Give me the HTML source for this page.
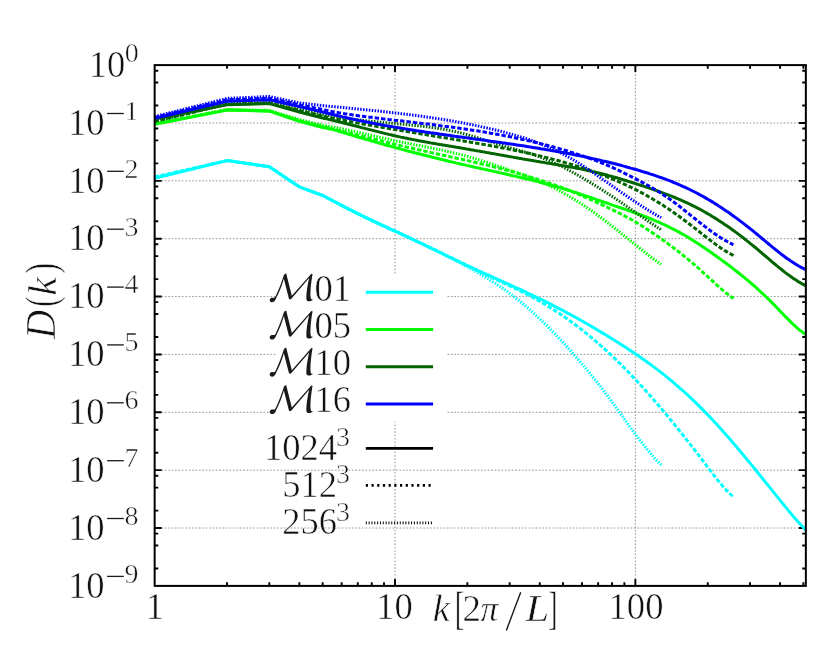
<!DOCTYPE html>
<html><head><meta charset="utf-8"><title>D(k)</title>
<style>html,body{margin:0;padding:0;background:#fff;overflow:hidden;}svg{display:block;font-family:"Liberation Serif",serif;will-change:transform;}</style></head><body>
<svg width="814" height="651" viewBox="0 0 814 651">
<rect width="814" height="651" fill="#fff"/>
<g stroke="#999" stroke-width="1" stroke-dasharray="1.7 1.7" fill="none">
<path d="M154.65,122.97 H805.85"/>
<path d="M154.65,180.83 H805.85"/>
<path d="M154.65,238.70 H805.85"/>
<path d="M154.65,296.57 H276.00 M447.50,296.57 H805.85"/>
<path d="M154.65,354.43 H276.00 M447.50,354.43 H805.85"/>
<path d="M154.65,412.30 H276.00 M447.50,412.30 H805.85"/>
<path d="M154.65,470.17 H805.85"/>
<path d="M154.65,528.03 H805.85"/>
<path d="M395.01,585.90 V421.60 M395.01,273.50 V65.10"/>
<path d="M635.37,585.90 V65.10"/>
</g>
<path stroke="#000" stroke-width="1.9" fill="none" d="M154.65,70.71 h3.60 M805.85,70.71 h-3.60 M154.65,82.52 h3.60 M805.85,82.52 h-3.60 M154.65,105.55 h3.60 M805.85,105.55 h-3.60 M154.65,122.97 h7.00 M805.85,122.97 h-7.00 M154.65,128.57 h3.60 M805.85,128.57 h-3.60 M154.65,140.39 h3.60 M805.85,140.39 h-3.60 M154.65,163.41 h3.60 M805.85,163.41 h-3.60 M154.65,180.83 h7.00 M805.85,180.83 h-7.00 M154.65,186.44 h3.60 M805.85,186.44 h-3.60 M154.65,198.25 h3.60 M805.85,198.25 h-3.60 M154.65,221.28 h3.60 M805.85,221.28 h-3.60 M154.65,238.70 h7.00 M805.85,238.70 h-7.00 M154.65,244.31 h3.60 M805.85,244.31 h-3.60 M154.65,256.12 h3.60 M805.85,256.12 h-3.60 M154.65,279.15 h3.60 M805.85,279.15 h-3.60 M154.65,296.57 h7.00 M805.85,296.57 h-7.00 M154.65,302.17 h3.60 M805.85,302.17 h-3.60 M154.65,313.99 h3.60 M805.85,313.99 h-3.60 M154.65,337.01 h3.60 M805.85,337.01 h-3.60 M154.65,354.43 h7.00 M805.85,354.43 h-7.00 M154.65,360.04 h3.60 M805.85,360.04 h-3.60 M154.65,371.85 h3.60 M805.85,371.85 h-3.60 M154.65,394.88 h3.60 M805.85,394.88 h-3.60 M154.65,412.30 h7.00 M805.85,412.30 h-7.00 M154.65,417.91 h3.60 M805.85,417.91 h-3.60 M154.65,429.72 h3.60 M805.85,429.72 h-3.60 M154.65,452.75 h3.60 M805.85,452.75 h-3.60 M154.65,470.17 h7.00 M805.85,470.17 h-7.00 M154.65,475.77 h3.60 M805.85,475.77 h-3.60 M154.65,487.59 h3.60 M805.85,487.59 h-3.60 M154.65,510.61 h3.60 M805.85,510.61 h-3.60 M154.65,528.03 h7.00 M805.85,528.03 h-7.00 M154.65,533.64 h3.60 M805.85,533.64 h-3.60 M154.65,545.45 h3.60 M805.85,545.45 h-3.60 M154.65,568.48 h3.60 M805.85,568.48 h-3.60 M227.01,585.90 v-3.60 M227.01,65.10 v3.60 M269.33,585.90 v-3.60 M269.33,65.10 v3.60 M299.36,585.90 v-3.60 M299.36,65.10 v3.60 M322.65,585.90 v-3.60 M322.65,65.10 v3.60 M341.69,585.90 v-3.60 M341.69,65.10 v3.60 M357.78,585.90 v-3.60 M357.78,65.10 v3.60 M371.72,585.90 v-3.60 M371.72,65.10 v3.60 M384.01,585.90 v-3.60 M384.01,65.10 v3.60 M395.01,585.90 v-7.00 M395.01,65.10 v7.00 M467.37,585.90 v-3.60 M467.37,65.10 v3.60 M509.69,585.90 v-3.60 M509.69,65.10 v3.60 M539.72,585.90 v-3.60 M539.72,65.10 v3.60 M563.01,585.90 v-3.60 M563.01,65.10 v3.60 M582.05,585.90 v-3.60 M582.05,65.10 v3.60 M598.14,585.90 v-3.60 M598.14,65.10 v3.60 M612.08,585.90 v-3.60 M612.08,65.10 v3.60 M624.37,585.90 v-3.60 M624.37,65.10 v3.60 M635.37,585.90 v-7.00 M635.37,65.10 v7.00 M707.73,585.90 v-3.60 M707.73,65.10 v3.60 M750.05,585.90 v-3.60 M750.05,65.10 v3.60 M780.08,585.90 v-3.60 M780.08,65.10 v3.60 M803.37,585.90 v-3.60 M803.37,65.10 v3.60"/>
<path d="M154.7,178.3 L227.0,160.6 L269.3,166.7 L299.4,186.9 L322.7,195.5 L324.7,196.5 L326.7,197.6 L328.7,198.6 L330.7,199.7 L332.7,200.8 L334.7,201.8 L336.7,202.9 L338.7,204.0 L340.7,205.0 L342.7,206.1 L344.7,207.1 L346.7,208.1 L348.7,209.2 L350.7,210.2 L352.7,211.2 L354.7,212.1 L356.7,213.1 L358.7,214.1 L360.7,215.0 L362.7,216.0 L364.7,216.9 L366.7,217.9 L368.7,218.8 L370.7,219.7 L372.7,220.7 L374.7,221.6 L376.7,222.5 L378.7,223.4 L380.7,224.4 L382.7,225.3 L384.7,226.2 L386.7,227.1 L388.7,228.0 L390.7,229.0 L392.7,229.9 L394.7,230.8 L396.7,231.7 L398.7,232.7 L400.7,233.6 L402.7,234.6 L404.7,235.5 L406.7,236.5 L408.7,237.4 L410.7,238.4 L412.7,239.4 L414.7,240.3 L416.7,241.3 L418.7,242.3 L420.7,243.2 L422.7,244.2 L424.7,245.2 L426.7,246.1 L428.7,247.1 L430.7,248.1 L432.7,249.1 L434.7,250.0 L436.7,251.0 L438.7,252.0 L440.7,252.9 L442.7,253.9 L444.7,254.9 L446.7,255.8 L448.7,256.8 L450.7,257.8 L452.7,258.7 L454.7,259.7 L456.7,260.6 L458.7,261.6 L460.7,262.5 L462.7,263.4 L464.7,264.4 L466.7,265.3 L468.7,266.2 L470.7,267.1 L472.7,268.1 L474.7,269.0 L476.7,269.9 L478.7,270.8 L480.7,271.7 L482.7,272.6 L484.7,273.5 L486.7,274.4 L488.7,275.3 L490.7,276.2 L492.7,277.1 L494.7,278.0 L496.7,278.9 L498.7,279.8 L500.7,280.7 L502.7,281.6 L504.7,282.5 L506.7,283.4 L508.7,284.3 L510.7,285.2 L512.7,286.1 L514.7,287.0 L516.7,287.9 L518.7,288.8 L520.7,289.7 L522.7,290.7 L524.7,291.6 L526.7,292.5 L528.7,293.5 L530.7,294.4 L532.7,295.4 L534.7,296.3 L536.7,297.3 L538.7,298.3 L540.7,299.2 L542.7,300.2 L544.7,301.2 L546.7,302.2 L548.7,303.2 L550.7,304.2 L552.7,305.2 L554.7,306.3 L556.7,307.3 L558.7,308.3 L560.7,309.4 L562.7,310.4 L564.7,311.5 L566.7,312.6 L568.7,313.7 L570.7,314.7 L572.7,315.8 L574.7,316.9 L576.7,318.0 L578.7,319.1 L580.7,320.3 L582.7,321.4 L584.7,322.5 L586.7,323.7 L588.7,324.8 L590.7,326.0 L592.7,327.1 L594.7,328.3 L596.7,329.5 L598.7,330.7 L600.7,331.9 L602.7,333.1 L604.7,334.3 L606.7,335.5 L608.7,336.7 L610.7,337.9 L612.7,339.2 L614.7,340.4 L616.7,341.7 L618.7,342.9 L620.7,344.2 L622.7,345.5 L624.7,346.8 L626.7,348.1 L628.7,349.4 L630.7,350.7 L632.7,352.0 L634.7,353.4 L636.7,354.7 L638.7,356.1 L640.7,357.5 L642.7,358.9 L644.7,360.3 L646.7,361.7 L648.7,363.2 L650.7,364.6 L652.7,366.1 L654.7,367.6 L656.7,369.1 L658.7,370.6 L660.7,372.2 L662.7,373.7 L664.7,375.3 L666.7,376.9 L668.7,378.6 L670.7,380.2 L672.7,381.9 L674.7,383.6 L676.7,385.3 L678.7,387.0 L680.7,388.8 L682.7,390.5 L684.7,392.3 L686.7,394.2 L688.7,396.0 L690.7,397.9 L692.7,399.8 L694.7,401.7 L696.7,403.6 L698.7,405.6 L700.7,407.6 L702.7,409.6 L704.7,411.6 L706.7,413.7 L708.7,415.8 L710.7,417.9 L712.7,420.0 L714.7,422.2 L716.7,424.3 L718.7,426.5 L720.7,428.7 L722.7,431.0 L724.7,433.2 L726.7,435.5 L728.7,437.8 L730.7,440.1 L732.7,442.4 L734.7,444.8 L736.7,447.1 L738.7,449.5 L740.7,451.9 L742.7,454.3 L744.7,456.7 L746.7,459.1 L748.7,461.5 L750.7,463.9 L752.7,466.4 L754.7,468.8 L756.7,471.3 L758.7,473.8 L760.7,476.2 L762.7,478.7 L764.7,481.2 L766.7,483.7 L768.7,486.1 L770.7,488.6 L772.7,491.1 L774.7,493.6 L776.7,496.1 L778.7,498.6 L780.7,501.1 L782.7,503.5 L784.7,506.0 L786.7,508.4 L788.7,510.9 L790.7,513.2 L792.7,515.6 L794.7,517.9 L796.7,520.2 L798.7,522.5 L800.7,524.7 L802.7,526.8 L804.7,528.9 L805.9,530.2" fill="none" stroke="#00ffff" stroke-width="3.0" stroke-linejoin="round"/>
<path d="M154.7,177.0 L227.0,160.6 L269.3,166.7 L299.4,186.9 L322.7,195.5 L324.7,196.5 L326.7,197.5 L328.7,198.6 L330.7,199.6 L332.7,200.7 L334.7,201.7 L336.7,202.8 L338.7,203.9 L340.7,205.0 L342.7,206.0 L344.7,207.1 L346.7,208.1 L348.7,209.2 L350.7,210.2 L352.7,211.2 L354.7,212.2 L356.7,213.2 L358.7,214.2 L360.7,215.2 L362.7,216.2 L364.7,217.2 L366.7,218.1 L368.7,219.1 L370.7,220.0 L372.7,221.0 L374.7,221.9 L376.7,222.8 L378.7,223.8 L380.7,224.7 L382.7,225.6 L384.7,226.5 L386.7,227.4 L388.7,228.4 L390.7,229.3 L392.7,230.2 L394.7,231.1 L396.7,232.0 L398.7,232.9 L400.7,233.8 L402.7,234.7 L404.7,235.6 L406.7,236.5 L408.7,237.4 L410.7,238.4 L412.7,239.3 L414.7,240.2 L416.7,241.1 L418.7,242.0 L420.7,243.0 L422.7,243.9 L424.7,244.9 L426.7,245.8 L428.7,246.8 L430.7,247.7 L432.7,248.7 L434.7,249.6 L436.7,250.6 L438.7,251.6 L440.7,252.5 L442.7,253.5 L444.7,254.5 L446.7,255.5 L448.7,256.5 L450.7,257.4 L452.7,258.4 L454.7,259.4 L456.7,260.4 L458.7,261.4 L460.7,262.4 L462.7,263.4 L464.7,264.3 L466.7,265.3 L468.7,266.3 L470.7,267.3 L472.7,268.3 L474.7,269.2 L476.7,270.2 L478.7,271.2 L480.7,272.2 L482.7,273.1 L484.7,274.1 L486.7,275.0 L488.7,276.0 L490.7,276.9 L492.7,277.9 L494.7,278.8 L496.7,279.8 L498.7,280.7 L500.7,281.6 L502.7,282.6 L504.7,283.5 L506.7,284.4 L508.7,285.4 L510.7,286.3 L512.7,287.3 L514.7,288.3 L516.7,289.2 L518.7,290.2 L520.7,291.2 L522.7,292.2 L524.7,293.2 L526.7,294.2 L528.7,295.3 L530.7,296.3 L532.7,297.4 L534.7,298.5 L536.7,299.6 L538.7,300.7 L540.7,301.9 L542.7,303.0 L544.7,304.2 L546.7,305.4 L548.7,306.6 L550.7,307.9 L552.7,309.1 L554.7,310.4 L556.7,311.7 L558.7,313.0 L560.7,314.4 L562.7,315.7 L564.7,317.1 L566.7,318.5 L568.7,319.9 L570.7,321.4 L572.7,322.8 L574.7,324.3 L576.7,325.8 L578.7,327.4 L580.7,328.9 L582.7,330.5 L584.7,332.1 L586.7,333.7 L588.7,335.3 L590.7,337.0 L592.7,338.6 L594.7,340.3 L596.7,342.0 L598.7,343.8 L600.7,345.5 L602.7,347.3 L604.7,349.1 L606.7,350.9 L608.7,352.8 L610.7,354.6 L612.7,356.5 L614.7,358.4 L616.7,360.4 L618.7,362.3 L620.7,364.3 L622.7,366.3 L624.7,368.3 L626.7,370.3 L628.7,372.4 L630.7,374.5 L632.7,376.6 L634.7,378.7 L636.7,380.8 L638.7,383.0 L640.7,385.2 L642.7,387.3 L644.7,389.6 L646.7,391.8 L648.7,394.0 L650.7,396.3 L652.7,398.6 L654.7,400.9 L656.7,403.2 L658.7,405.5 L660.7,407.9 L662.7,410.2 L664.7,412.6 L666.7,415.0 L668.7,417.4 L670.7,419.9 L672.7,422.3 L674.7,424.8 L676.7,427.2 L678.7,429.7 L680.7,432.2 L682.7,434.7 L684.7,437.2 L686.7,439.8 L688.7,442.3 L690.7,444.9 L692.7,447.5 L694.7,450.0 L696.7,452.6 L698.7,455.2 L700.7,457.9 L702.7,460.5 L704.7,463.1 L706.7,465.8 L708.7,468.4 L710.7,471.1 L712.7,473.7 L714.7,476.3 L716.7,478.8 L718.7,481.3 L720.7,483.7 L722.7,486.1 L724.7,488.4 L726.7,490.5 L728.7,492.6 L730.7,494.5 L732.7,496.3 L733.5,497.0" fill="none" stroke="#00ffff" stroke-width="3.0" stroke-dasharray="4.4 2.0" stroke-linejoin="round"/>
<path d="M154.7,177.6 L227.0,160.6 L269.3,166.7 L299.4,186.9 L322.7,195.5 L324.7,196.5 L326.7,197.5 L328.7,198.5 L330.7,199.5 L332.7,200.5 L334.7,201.5 L336.7,202.6 L338.7,203.6 L340.7,204.6 L342.7,205.7 L344.7,206.7 L346.7,207.8 L348.7,208.8 L350.7,209.9 L352.7,210.9 L354.7,212.0 L356.7,213.0 L358.7,214.1 L360.7,215.1 L362.7,216.1 L364.7,217.1 L366.7,218.1 L368.7,219.1 L370.7,220.1 L372.7,221.1 L374.7,222.0 L376.7,223.0 L378.7,223.9 L380.7,224.9 L382.7,225.8 L384.7,226.7 L386.7,227.7 L388.7,228.6 L390.7,229.5 L392.7,230.4 L394.7,231.3 L396.7,232.2 L398.7,233.1 L400.7,234.0 L402.7,234.9 L404.7,235.8 L406.7,236.7 L408.7,237.6 L410.7,238.6 L412.7,239.5 L414.7,240.4 L416.7,241.3 L418.7,242.2 L420.7,243.2 L422.7,244.1 L424.7,245.0 L426.7,246.0 L428.7,246.9 L430.7,247.9 L432.7,248.9 L434.7,249.9 L436.7,250.8 L438.7,251.8 L440.7,252.8 L442.7,253.8 L444.7,254.9 L446.7,255.9 L448.7,256.9 L450.7,257.9 L452.7,259.0 L454.7,260.0 L456.7,261.1 L458.7,262.2 L460.7,263.2 L462.7,264.3 L464.7,265.4 L466.7,266.5 L468.7,267.6 L470.7,268.7 L472.7,269.8 L474.7,270.9 L476.7,272.1 L478.7,273.2 L480.7,274.4 L482.7,275.6 L484.7,276.8 L486.7,278.0 L488.7,279.2 L490.7,280.5 L492.7,281.7 L494.7,283.0 L496.7,284.3 L498.7,285.7 L500.7,287.0 L502.7,288.4 L504.7,289.8 L506.7,291.2 L508.7,292.7 L510.7,294.1 L512.7,295.7 L514.7,297.2 L516.7,298.8 L518.7,300.4 L520.7,302.0 L522.7,303.6 L524.7,305.3 L526.7,307.0 L528.7,308.8 L530.7,310.5 L532.7,312.3 L534.7,314.1 L536.7,316.0 L538.7,317.8 L540.7,319.7 L542.7,321.7 L544.7,323.6 L546.7,325.6 L548.7,327.6 L550.7,329.6 L552.7,331.6 L554.7,333.7 L556.7,335.8 L558.7,337.9 L560.7,340.0 L562.7,342.1 L564.7,344.3 L566.7,346.5 L568.7,348.7 L570.7,350.9 L572.7,353.2 L574.7,355.5 L576.7,357.7 L578.7,360.1 L580.7,362.4 L582.7,364.7 L584.7,367.1 L586.7,369.5 L588.7,371.9 L590.7,374.4 L592.7,376.8 L594.7,379.3 L596.7,381.8 L598.7,384.4 L600.7,386.9 L602.7,389.5 L604.7,392.2 L606.7,394.8 L608.7,397.5 L610.7,400.2 L612.7,402.9 L614.7,405.6 L616.7,408.4 L618.7,411.2 L620.7,413.9 L622.7,416.7 L624.7,419.5 L626.7,422.3 L628.7,425.1 L630.7,427.8 L632.7,430.6 L634.7,433.3 L636.7,436.0 L638.7,438.6 L640.7,441.3 L642.7,443.8 L644.7,446.4 L646.7,448.9 L648.7,451.3 L650.7,453.7 L652.7,456.0 L654.7,458.3 L656.7,460.4 L658.7,462.5 L660.7,464.5 L661.1,465.0" fill="none" stroke="#00ffff" stroke-width="3.0" stroke-dasharray="1.5 1.4" stroke-linejoin="round"/>
<path d="M154.7,124.4 L227.0,110.1 L269.3,111.2 L299.4,121.3 L322.7,127.5 L324.7,127.9 L326.7,128.3 L328.7,128.7 L330.7,129.1 L332.7,129.6 L334.7,130.1 L336.7,130.6 L338.7,131.2 L340.7,131.8 L342.7,132.4 L344.7,133.0 L346.7,133.6 L348.7,134.2 L350.7,134.8 L352.7,135.4 L354.7,136.0 L356.7,136.6 L358.7,137.2 L360.7,137.8 L362.7,138.4 L364.7,139.0 L366.7,139.6 L368.7,140.1 L370.7,140.7 L372.7,141.3 L374.7,141.9 L376.7,142.4 L378.7,143.0 L380.7,143.6 L382.7,144.1 L384.7,144.7 L386.7,145.2 L388.7,145.8 L390.7,146.3 L392.7,146.9 L394.7,147.4 L396.7,148.0 L398.7,148.5 L400.7,149.1 L402.7,149.6 L404.7,150.1 L406.7,150.7 L408.7,151.2 L410.7,151.7 L412.7,152.2 L414.7,152.8 L416.7,153.3 L418.7,153.8 L420.7,154.3 L422.7,154.8 L424.7,155.3 L426.7,155.8 L428.7,156.3 L430.7,156.8 L432.7,157.3 L434.7,157.8 L436.7,158.3 L438.7,158.8 L440.7,159.3 L442.7,159.8 L444.7,160.2 L446.7,160.7 L448.7,161.2 L450.7,161.7 L452.7,162.1 L454.7,162.6 L456.7,163.1 L458.7,163.5 L460.7,164.0 L462.7,164.5 L464.7,164.9 L466.7,165.4 L468.7,165.8 L470.7,166.3 L472.7,166.7 L474.7,167.2 L476.7,167.6 L478.7,168.0 L480.7,168.5 L482.7,168.9 L484.7,169.4 L486.7,169.8 L488.7,170.3 L490.7,170.7 L492.7,171.1 L494.7,171.6 L496.7,172.0 L498.7,172.5 L500.7,172.9 L502.7,173.4 L504.7,173.8 L506.7,174.3 L508.7,174.7 L510.7,175.2 L512.7,175.7 L514.7,176.1 L516.7,176.6 L518.7,177.1 L520.7,177.5 L522.7,178.0 L524.7,178.5 L526.7,179.0 L528.7,179.4 L530.7,179.9 L532.7,180.4 L534.7,180.9 L536.7,181.4 L538.7,181.9 L540.7,182.5 L542.7,183.0 L544.7,183.5 L546.7,184.0 L548.7,184.6 L550.7,185.1 L552.7,185.7 L554.7,186.2 L556.7,186.8 L558.7,187.4 L560.7,187.9 L562.7,188.5 L564.7,189.1 L566.7,189.7 L568.7,190.3 L570.7,190.9 L572.7,191.6 L574.7,192.2 L576.7,192.8 L578.7,193.5 L580.7,194.1 L582.7,194.8 L584.7,195.5 L586.7,196.1 L588.7,196.8 L590.7,197.5 L592.7,198.2 L594.7,198.9 L596.7,199.6 L598.7,200.3 L600.7,201.0 L602.7,201.7 L604.7,202.3 L606.7,203.0 L608.7,203.7 L610.7,204.4 L612.7,205.1 L614.7,205.8 L616.7,206.5 L618.7,207.2 L620.7,207.8 L622.7,208.5 L624.7,209.2 L626.7,209.9 L628.7,210.6 L630.7,211.3 L632.7,212.0 L634.7,212.7 L636.7,213.5 L638.7,214.2 L640.7,214.9 L642.7,215.7 L644.7,216.5 L646.7,217.2 L648.7,218.0 L650.7,218.8 L652.7,219.6 L654.7,220.5 L656.7,221.3 L658.7,222.2 L660.7,223.1 L662.7,224.0 L664.7,224.9 L666.7,225.8 L668.7,226.8 L670.7,227.8 L672.7,228.8 L674.7,229.8 L676.7,230.9 L678.7,231.9 L680.7,233.1 L682.7,234.2 L684.7,235.3 L686.7,236.5 L688.7,237.7 L690.7,239.0 L692.7,240.2 L694.7,241.5 L696.7,242.8 L698.7,244.1 L700.7,245.4 L702.7,246.7 L704.7,248.1 L706.7,249.5 L708.7,250.8 L710.7,252.2 L712.7,253.6 L714.7,255.1 L716.7,256.5 L718.7,257.9 L720.7,259.4 L722.7,260.9 L724.7,262.3 L726.7,263.8 L728.7,265.3 L730.7,266.8 L732.7,268.3 L734.7,269.9 L736.7,271.5 L738.7,273.0 L740.7,274.6 L742.7,276.2 L744.7,277.9 L746.7,279.5 L748.7,281.2 L750.7,282.9 L752.7,284.6 L754.7,286.4 L756.7,288.2 L758.7,290.0 L760.7,291.8 L762.7,293.7 L764.7,295.5 L766.7,297.5 L768.7,299.4 L770.7,301.4 L772.7,303.4 L774.7,305.4 L776.7,307.5 L778.7,309.6 L780.7,311.7 L782.7,313.8 L784.7,315.9 L786.7,317.9 L788.7,319.9 L790.7,321.9 L792.7,323.9 L794.7,325.7 L796.7,327.5 L798.7,329.3 L800.7,330.9 L802.7,332.4 L804.7,333.8 L805.9,334.6" fill="none" stroke="#00ff00" stroke-width="3.0" stroke-linejoin="round"/>
<path d="M154.7,124.0 L227.0,109.8 L269.3,110.9 L299.4,120.6 L322.7,126.6 L324.7,127.1 L326.7,127.5 L328.7,128.0 L330.7,128.5 L332.7,128.9 L334.7,129.4 L336.7,129.9 L338.7,130.4 L340.7,130.9 L342.7,131.4 L344.7,131.9 L346.7,132.3 L348.7,132.8 L350.7,133.3 L352.7,133.8 L354.7,134.3 L356.7,134.8 L358.7,135.3 L360.7,135.8 L362.7,136.3 L364.7,136.8 L366.7,137.3 L368.7,137.8 L370.7,138.3 L372.7,138.8 L374.7,139.3 L376.7,139.8 L378.7,140.3 L380.7,140.8 L382.7,141.3 L384.7,141.8 L386.7,142.3 L388.7,142.8 L390.7,143.3 L392.7,143.8 L394.7,144.2 L396.7,144.7 L398.7,145.2 L400.7,145.7 L402.7,146.1 L404.7,146.6 L406.7,147.1 L408.7,147.5 L410.7,148.0 L412.7,148.4 L414.7,148.9 L416.7,149.3 L418.7,149.8 L420.7,150.2 L422.7,150.7 L424.7,151.1 L426.7,151.6 L428.7,152.0 L430.7,152.5 L432.7,152.9 L434.7,153.3 L436.7,153.8 L438.7,154.2 L440.7,154.7 L442.7,155.1 L444.7,155.5 L446.7,156.0 L448.7,156.4 L450.7,156.9 L452.7,157.3 L454.7,157.7 L456.7,158.2 L458.7,158.6 L460.7,159.1 L462.7,159.5 L464.7,160.0 L466.7,160.4 L468.7,160.9 L470.7,161.4 L472.7,161.8 L474.7,162.3 L476.7,162.7 L478.7,163.2 L480.7,163.7 L482.7,164.2 L484.7,164.6 L486.7,165.1 L488.7,165.6 L490.7,166.1 L492.7,166.6 L494.7,167.1 L496.7,167.6 L498.7,168.1 L500.7,168.6 L502.7,169.2 L504.7,169.7 L506.7,170.2 L508.7,170.8 L510.7,171.3 L512.7,171.8 L514.7,172.4 L516.7,173.0 L518.7,173.5 L520.7,174.1 L522.7,174.7 L524.7,175.3 L526.7,175.9 L528.7,176.5 L530.7,177.1 L532.7,177.7 L534.7,178.3 L536.7,179.0 L538.7,179.6 L540.7,180.2 L542.7,180.9 L544.7,181.6 L546.7,182.2 L548.7,182.9 L550.7,183.6 L552.7,184.3 L554.7,185.0 L556.7,185.8 L558.7,186.5 L560.7,187.2 L562.7,188.0 L564.7,188.7 L566.7,189.5 L568.7,190.3 L570.7,191.1 L572.7,191.9 L574.7,192.7 L576.7,193.5 L578.7,194.4 L580.7,195.2 L582.7,196.1 L584.7,196.9 L586.7,197.8 L588.7,198.7 L590.7,199.6 L592.7,200.5 L594.7,201.4 L596.7,202.3 L598.7,203.3 L600.7,204.2 L602.7,205.1 L604.7,206.1 L606.7,207.0 L608.7,208.0 L610.7,208.9 L612.7,209.9 L614.7,210.9 L616.7,211.9 L618.7,212.9 L620.7,213.9 L622.7,214.9 L624.7,216.0 L626.7,217.0 L628.7,218.1 L630.7,219.2 L632.7,220.3 L634.7,221.5 L636.7,222.7 L638.7,223.9 L640.7,225.1 L642.7,226.4 L644.7,227.6 L646.7,228.9 L648.7,230.3 L650.7,231.6 L652.7,233.0 L654.7,234.3 L656.7,235.7 L658.7,237.1 L660.7,238.5 L662.7,239.9 L664.7,241.3 L666.7,242.8 L668.7,244.3 L670.7,245.7 L672.7,247.2 L674.7,248.7 L676.7,250.3 L678.7,251.8 L680.7,253.4 L682.7,255.0 L684.7,256.6 L686.7,258.2 L688.7,259.9 L690.7,261.5 L692.7,263.2 L694.7,265.0 L696.7,266.7 L698.7,268.5 L700.7,270.3 L702.7,272.1 L704.7,273.9 L706.7,275.7 L708.7,277.6 L710.7,279.4 L712.7,281.2 L714.7,283.1 L716.7,284.9 L718.7,286.6 L720.7,288.4 L722.7,290.1 L724.7,291.7 L726.7,293.4 L728.7,294.9 L730.7,296.5 L732.7,297.9 L733.5,298.5" fill="none" stroke="#00ff00" stroke-width="3.0" stroke-dasharray="4.4 2.0" stroke-linejoin="round"/>
<path d="M154.7,123.6 L227.0,109.5 L269.3,110.4 L299.4,119.6 L322.7,125.2 L324.7,125.5 L326.7,125.9 L328.7,126.2 L330.7,126.6 L332.7,127.0 L334.7,127.3 L336.7,127.7 L338.7,128.1 L340.7,128.5 L342.7,128.9 L344.7,129.4 L346.7,129.8 L348.7,130.2 L350.7,130.7 L352.7,131.1 L354.7,131.5 L356.7,132.0 L358.7,132.5 L360.7,132.9 L362.7,133.4 L364.7,133.8 L366.7,134.3 L368.7,134.8 L370.7,135.2 L372.7,135.7 L374.7,136.2 L376.7,136.6 L378.7,137.1 L380.7,137.5 L382.7,138.0 L384.7,138.5 L386.7,138.9 L388.7,139.3 L390.7,139.8 L392.7,140.2 L394.7,140.7 L396.7,141.1 L398.7,141.5 L400.7,141.9 L402.7,142.3 L404.7,142.7 L406.7,143.1 L408.7,143.5 L410.7,143.9 L412.7,144.3 L414.7,144.7 L416.7,145.1 L418.7,145.5 L420.7,145.9 L422.7,146.3 L424.7,146.7 L426.7,147.1 L428.7,147.4 L430.7,147.8 L432.7,148.3 L434.7,148.7 L436.7,149.1 L438.7,149.5 L440.7,149.9 L442.7,150.3 L444.7,150.8 L446.7,151.2 L448.7,151.7 L450.7,152.2 L452.7,152.6 L454.7,153.1 L456.7,153.6 L458.7,154.1 L460.7,154.6 L462.7,155.1 L464.7,155.7 L466.7,156.2 L468.7,156.8 L470.7,157.4 L472.7,157.9 L474.7,158.5 L476.7,159.1 L478.7,159.7 L480.7,160.3 L482.7,161.0 L484.7,161.6 L486.7,162.2 L488.7,162.9 L490.7,163.6 L492.7,164.2 L494.7,164.9 L496.7,165.6 L498.7,166.3 L500.7,166.9 L502.7,167.6 L504.7,168.3 L506.7,169.0 L508.7,169.8 L510.7,170.5 L512.7,171.2 L514.7,171.9 L516.7,172.6 L518.7,173.4 L520.7,174.1 L522.7,174.8 L524.7,175.6 L526.7,176.3 L528.7,177.1 L530.7,177.9 L532.7,178.6 L534.7,179.4 L536.7,180.2 L538.7,181.1 L540.7,181.9 L542.7,182.8 L544.7,183.6 L546.7,184.5 L548.7,185.5 L550.7,186.4 L552.7,187.4 L554.7,188.4 L556.7,189.4 L558.7,190.5 L560.7,191.5 L562.7,192.6 L564.7,193.8 L566.7,194.9 L568.7,196.1 L570.7,197.3 L572.7,198.5 L574.7,199.7 L576.7,200.9 L578.7,202.2 L580.7,203.5 L582.7,204.8 L584.7,206.1 L586.7,207.5 L588.7,208.9 L590.7,210.2 L592.7,211.6 L594.7,213.1 L596.7,214.5 L598.7,216.0 L600.7,217.4 L602.7,218.9 L604.7,220.4 L606.7,221.9 L608.7,223.5 L610.7,225.0 L612.7,226.6 L614.7,228.2 L616.7,229.7 L618.7,231.3 L620.7,232.9 L622.7,234.5 L624.7,236.2 L626.7,237.8 L628.7,239.4 L630.7,241.0 L632.7,242.6 L634.7,244.2 L636.7,245.8 L638.7,247.4 L640.7,249.0 L642.7,250.6 L644.7,252.2 L646.7,253.7 L648.7,255.3 L650.7,256.8 L652.7,258.3 L654.7,259.8 L656.7,261.2 L658.7,262.7 L660.7,264.1 L661.1,264.4" fill="none" stroke="#00ff00" stroke-width="3.0" stroke-dasharray="1.5 1.4" stroke-linejoin="round"/>
<path d="M154.7,119.0 L227.0,104.7 L269.3,103.6 L299.4,112.0 L322.7,118.0 L324.7,118.5 L326.7,118.9 L328.7,119.4 L330.7,119.9 L332.7,120.3 L334.7,120.8 L336.7,121.3 L338.7,121.8 L340.7,122.3 L342.7,122.8 L344.7,123.3 L346.7,123.8 L348.7,124.3 L350.7,124.8 L352.7,125.3 L354.7,125.8 L356.7,126.3 L358.7,126.8 L360.7,127.4 L362.7,127.9 L364.7,128.4 L366.7,128.9 L368.7,129.4 L370.7,129.9 L372.7,130.4 L374.7,130.9 L376.7,131.4 L378.7,131.9 L380.7,132.4 L382.7,132.9 L384.7,133.4 L386.7,133.9 L388.7,134.4 L390.7,134.8 L392.7,135.3 L394.7,135.8 L396.7,136.2 L398.7,136.6 L400.7,137.1 L402.7,137.5 L404.7,137.9 L406.7,138.3 L408.7,138.8 L410.7,139.1 L412.7,139.5 L414.7,139.9 L416.7,140.3 L418.7,140.7 L420.7,141.1 L422.7,141.4 L424.7,141.8 L426.7,142.1 L428.7,142.5 L430.7,142.9 L432.7,143.2 L434.7,143.5 L436.7,143.9 L438.7,144.2 L440.7,144.6 L442.7,144.9 L444.7,145.2 L446.7,145.6 L448.7,145.9 L450.7,146.2 L452.7,146.6 L454.7,146.9 L456.7,147.3 L458.7,147.6 L460.7,147.9 L462.7,148.3 L464.7,148.6 L466.7,149.0 L468.7,149.3 L470.7,149.7 L472.7,150.0 L474.7,150.4 L476.7,150.7 L478.7,151.1 L480.7,151.4 L482.7,151.8 L484.7,152.1 L486.7,152.5 L488.7,152.8 L490.7,153.2 L492.7,153.5 L494.7,153.9 L496.7,154.3 L498.7,154.6 L500.7,155.0 L502.7,155.3 L504.7,155.7 L506.7,156.0 L508.7,156.4 L510.7,156.7 L512.7,157.1 L514.7,157.5 L516.7,157.8 L518.7,158.2 L520.7,158.5 L522.7,158.9 L524.7,159.2 L526.7,159.6 L528.7,159.9 L530.7,160.3 L532.7,160.6 L534.7,160.9 L536.7,161.3 L538.7,161.6 L540.7,162.0 L542.7,162.3 L544.7,162.6 L546.7,163.0 L548.7,163.3 L550.7,163.6 L552.7,164.0 L554.7,164.3 L556.7,164.6 L558.7,165.0 L560.7,165.3 L562.7,165.6 L564.7,166.0 L566.7,166.3 L568.7,166.7 L570.7,167.0 L572.7,167.4 L574.7,167.8 L576.7,168.2 L578.7,168.5 L580.7,168.9 L582.7,169.4 L584.7,169.8 L586.7,170.2 L588.7,170.7 L590.7,171.1 L592.7,171.6 L594.7,172.0 L596.7,172.5 L598.7,173.0 L600.7,173.5 L602.7,174.0 L604.7,174.5 L606.7,175.0 L608.7,175.6 L610.7,176.1 L612.7,176.7 L614.7,177.2 L616.7,177.8 L618.7,178.4 L620.7,179.0 L622.7,179.6 L624.7,180.2 L626.7,180.8 L628.7,181.5 L630.7,182.1 L632.7,182.7 L634.7,183.3 L636.7,184.0 L638.7,184.6 L640.7,185.3 L642.7,185.9 L644.7,186.6 L646.7,187.2 L648.7,187.9 L650.7,188.6 L652.7,189.3 L654.7,190.0 L656.7,190.7 L658.7,191.4 L660.7,192.1 L662.7,192.8 L664.7,193.6 L666.7,194.3 L668.7,195.1 L670.7,195.9 L672.7,196.7 L674.7,197.5 L676.7,198.3 L678.7,199.2 L680.7,200.0 L682.7,200.9 L684.7,201.8 L686.7,202.7 L688.7,203.7 L690.7,204.6 L692.7,205.6 L694.7,206.6 L696.7,207.6 L698.7,208.7 L700.7,209.7 L702.7,210.8 L704.7,212.0 L706.7,213.1 L708.7,214.3 L710.7,215.4 L712.7,216.7 L714.7,217.9 L716.7,219.1 L718.7,220.4 L720.7,221.7 L722.7,223.0 L724.7,224.4 L726.7,225.7 L728.7,227.1 L730.7,228.5 L732.7,230.0 L734.7,231.4 L736.7,232.9 L738.7,234.4 L740.7,235.9 L742.7,237.4 L744.7,239.0 L746.7,240.6 L748.7,242.1 L750.7,243.8 L752.7,245.4 L754.7,247.0 L756.7,248.7 L758.7,250.4 L760.7,252.1 L762.7,253.8 L764.7,255.5 L766.7,257.2 L768.7,258.9 L770.7,260.6 L772.7,262.3 L774.7,264.0 L776.7,265.7 L778.7,267.3 L780.7,268.9 L782.7,270.5 L784.7,272.1 L786.7,273.6 L788.7,275.1 L790.7,276.5 L792.7,278.0 L794.7,279.3 L796.7,280.6 L798.7,281.9 L800.7,283.0 L802.7,284.2 L804.7,285.2 L805.9,285.8" fill="none" stroke="#006400" stroke-width="3.0" stroke-linejoin="round"/>
<path d="M154.7,121.3 L227.0,104.3 L269.3,103.0 L299.4,110.6 L322.7,116.2 L324.7,116.6 L326.7,117.0 L328.7,117.4 L330.7,117.8 L332.7,118.2 L334.7,118.6 L336.7,119.0 L338.7,119.4 L340.7,119.8 L342.7,120.2 L344.7,120.5 L346.7,120.9 L348.7,121.3 L350.7,121.7 L352.7,122.0 L354.7,122.4 L356.7,122.8 L358.7,123.1 L360.7,123.5 L362.7,123.9 L364.7,124.2 L366.7,124.6 L368.7,125.0 L370.7,125.3 L372.7,125.7 L374.7,126.0 L376.7,126.4 L378.7,126.7 L380.7,127.1 L382.7,127.4 L384.7,127.8 L386.7,128.1 L388.7,128.5 L390.7,128.8 L392.7,129.1 L394.7,129.5 L396.7,129.8 L398.7,130.2 L400.7,130.5 L402.7,130.8 L404.7,131.2 L406.7,131.5 L408.7,131.8 L410.7,132.2 L412.7,132.5 L414.7,132.8 L416.7,133.2 L418.7,133.5 L420.7,133.8 L422.7,134.2 L424.7,134.5 L426.7,134.8 L428.7,135.2 L430.7,135.5 L432.7,135.8 L434.7,136.2 L436.7,136.5 L438.7,136.8 L440.7,137.2 L442.7,137.5 L444.7,137.8 L446.7,138.1 L448.7,138.5 L450.7,138.8 L452.7,139.1 L454.7,139.5 L456.7,139.8 L458.7,140.1 L460.7,140.5 L462.7,140.8 L464.7,141.2 L466.7,141.5 L468.7,141.8 L470.7,142.2 L472.7,142.5 L474.7,142.9 L476.7,143.2 L478.7,143.6 L480.7,143.9 L482.7,144.3 L484.7,144.6 L486.7,145.0 L488.7,145.3 L490.7,145.7 L492.7,146.1 L494.7,146.4 L496.7,146.8 L498.7,147.2 L500.7,147.6 L502.7,147.9 L504.7,148.3 L506.7,148.7 L508.7,149.1 L510.7,149.5 L512.7,149.9 L514.7,150.3 L516.7,150.7 L518.7,151.2 L520.7,151.6 L522.7,152.0 L524.7,152.4 L526.7,152.9 L528.7,153.3 L530.7,153.8 L532.7,154.2 L534.7,154.7 L536.7,155.2 L538.7,155.6 L540.7,156.1 L542.7,156.6 L544.7,157.1 L546.7,157.6 L548.7,158.1 L550.7,158.6 L552.7,159.2 L554.7,159.7 L556.7,160.2 L558.7,160.8 L560.7,161.3 L562.7,161.9 L564.7,162.5 L566.7,163.1 L568.7,163.6 L570.7,164.2 L572.7,164.8 L574.7,165.5 L576.7,166.1 L578.7,166.7 L580.7,167.4 L582.7,168.0 L584.7,168.7 L586.7,169.4 L588.7,170.0 L590.7,170.7 L592.7,171.4 L594.7,172.2 L596.7,172.9 L598.7,173.6 L600.7,174.4 L602.7,175.1 L604.7,175.9 L606.7,176.7 L608.7,177.5 L610.7,178.3 L612.7,179.1 L614.7,180.0 L616.7,180.8 L618.7,181.7 L620.7,182.6 L622.7,183.5 L624.7,184.4 L626.7,185.3 L628.7,186.3 L630.7,187.2 L632.7,188.2 L634.7,189.2 L636.7,190.2 L638.7,191.2 L640.7,192.3 L642.7,193.4 L644.7,194.4 L646.7,195.5 L648.7,196.7 L650.7,197.8 L652.7,199.0 L654.7,200.2 L656.7,201.4 L658.7,202.6 L660.7,203.8 L662.7,205.1 L664.7,206.4 L666.7,207.7 L668.7,209.0 L670.7,210.4 L672.7,211.8 L674.7,213.2 L676.7,214.6 L678.7,216.0 L680.7,217.5 L682.7,219.0 L684.7,220.5 L686.7,222.0 L688.7,223.5 L690.7,225.0 L692.7,226.6 L694.7,228.1 L696.7,229.7 L698.7,231.2 L700.7,232.8 L702.7,234.4 L704.7,236.0 L706.7,237.5 L708.7,239.1 L710.7,240.6 L712.7,242.1 L714.7,243.6 L716.7,245.1 L718.7,246.5 L720.7,247.9 L722.7,249.2 L724.7,250.5 L726.7,251.7 L728.7,252.9 L730.7,254.0 L732.7,255.1 L733.5,255.5" fill="none" stroke="#006400" stroke-width="3.0" stroke-dasharray="4.4 2.0" stroke-linejoin="round"/>
<path d="M154.7,121.5 L227.0,103.8 L269.3,102.3 L299.4,109.0 L322.7,114.2 L324.7,114.6 L326.7,115.0 L328.7,115.4 L330.7,115.7 L332.7,116.1 L334.7,116.4 L336.7,116.8 L338.7,117.1 L340.7,117.4 L342.7,117.7 L344.7,118.0 L346.7,118.3 L348.7,118.6 L350.7,118.9 L352.7,119.1 L354.7,119.4 L356.7,119.6 L358.7,119.9 L360.7,120.1 L362.7,120.3 L364.7,120.6 L366.7,120.8 L368.7,121.0 L370.7,121.2 L372.7,121.4 L374.7,121.6 L376.7,121.8 L378.7,122.0 L380.7,122.2 L382.7,122.4 L384.7,122.6 L386.7,122.8 L388.7,123.0 L390.7,123.1 L392.7,123.3 L394.7,123.5 L396.7,123.7 L398.7,123.9 L400.7,124.1 L402.7,124.2 L404.7,124.4 L406.7,124.6 L408.7,124.8 L410.7,125.0 L412.7,125.2 L414.7,125.4 L416.7,125.6 L418.7,125.8 L420.7,126.0 L422.7,126.3 L424.7,126.5 L426.7,126.8 L428.7,127.0 L430.7,127.3 L432.7,127.6 L434.7,127.8 L436.7,128.1 L438.7,128.5 L440.7,128.8 L442.7,129.1 L444.7,129.5 L446.7,129.8 L448.7,130.2 L450.7,130.6 L452.7,131.1 L454.7,131.5 L456.7,132.0 L458.7,132.4 L460.7,132.9 L462.7,133.4 L464.7,134.0 L466.7,134.5 L468.7,135.1 L470.7,135.7 L472.7,136.3 L474.7,136.8 L476.7,137.5 L478.7,138.1 L480.7,138.7 L482.7,139.3 L484.7,139.9 L486.7,140.6 L488.7,141.2 L490.7,141.8 L492.7,142.5 L494.7,143.1 L496.7,143.7 L498.7,144.3 L500.7,144.9 L502.7,145.5 L504.7,146.1 L506.7,146.7 L508.7,147.3 L510.7,147.9 L512.7,148.4 L514.7,149.0 L516.7,149.6 L518.7,150.2 L520.7,150.8 L522.7,151.4 L524.7,152.0 L526.7,152.6 L528.7,153.2 L530.7,153.8 L532.7,154.5 L534.7,155.2 L536.7,155.9 L538.7,156.6 L540.7,157.3 L542.7,158.0 L544.7,158.8 L546.7,159.6 L548.7,160.4 L550.7,161.3 L552.7,162.2 L554.7,163.1 L556.7,164.0 L558.7,165.0 L560.7,166.0 L562.7,167.0 L564.7,168.0 L566.7,169.1 L568.7,170.1 L570.7,171.2 L572.7,172.3 L574.7,173.4 L576.7,174.6 L578.7,175.7 L580.7,176.9 L582.7,178.0 L584.7,179.2 L586.7,180.4 L588.7,181.6 L590.7,182.8 L592.7,184.0 L594.7,185.2 L596.7,186.5 L598.7,187.7 L600.7,189.0 L602.7,190.3 L604.7,191.6 L606.7,192.8 L608.7,194.1 L610.7,195.5 L612.7,196.8 L614.7,198.1 L616.7,199.5 L618.7,200.8 L620.7,202.2 L622.7,203.6 L624.7,204.9 L626.7,206.3 L628.7,207.7 L630.7,209.1 L632.7,210.5 L634.7,211.9 L636.7,213.3 L638.7,214.7 L640.7,216.1 L642.7,217.4 L644.7,218.8 L646.7,220.2 L648.7,221.6 L650.7,222.9 L652.7,224.2 L654.7,225.6 L656.7,226.9 L658.7,228.2 L660.7,229.5 L661.1,229.8" fill="none" stroke="#006400" stroke-width="3.0" stroke-dasharray="1.5 1.4" stroke-linejoin="round"/>
<path d="M154.7,118.2 L227.0,101.2 L269.3,99.8 L299.4,106.5 L322.7,112.0 L324.7,112.5 L326.7,113.0 L328.7,113.5 L330.7,114.0 L332.7,114.5 L334.7,115.0 L336.7,115.5 L338.7,116.0 L340.7,116.4 L342.7,116.9 L344.7,117.3 L346.7,117.8 L348.7,118.2 L350.7,118.7 L352.7,119.1 L354.7,119.5 L356.7,119.9 L358.7,120.4 L360.7,120.8 L362.7,121.2 L364.7,121.6 L366.7,122.0 L368.7,122.4 L370.7,122.8 L372.7,123.2 L374.7,123.5 L376.7,123.9 L378.7,124.3 L380.7,124.6 L382.7,125.0 L384.7,125.4 L386.7,125.7 L388.7,126.1 L390.7,126.4 L392.7,126.8 L394.7,127.1 L396.7,127.4 L398.7,127.8 L400.7,128.1 L402.7,128.4 L404.7,128.8 L406.7,129.1 L408.7,129.4 L410.7,129.7 L412.7,130.0 L414.7,130.3 L416.7,130.7 L418.7,131.0 L420.7,131.3 L422.7,131.6 L424.7,131.9 L426.7,132.2 L428.7,132.5 L430.7,132.8 L432.7,133.0 L434.7,133.3 L436.7,133.6 L438.7,133.9 L440.7,134.2 L442.7,134.5 L444.7,134.8 L446.7,135.1 L448.7,135.3 L450.7,135.6 L452.7,135.9 L454.7,136.2 L456.7,136.4 L458.7,136.7 L460.7,137.0 L462.7,137.3 L464.7,137.6 L466.7,137.8 L468.7,138.1 L470.7,138.4 L472.7,138.7 L474.7,138.9 L476.7,139.2 L478.7,139.5 L480.7,139.8 L482.7,140.0 L484.7,140.3 L486.7,140.6 L488.7,140.9 L490.7,141.2 L492.7,141.4 L494.7,141.7 L496.7,142.0 L498.7,142.3 L500.7,142.6 L502.7,142.9 L504.7,143.1 L506.7,143.4 L508.7,143.7 L510.7,144.0 L512.7,144.3 L514.7,144.6 L516.7,144.9 L518.7,145.2 L520.7,145.5 L522.7,145.8 L524.7,146.1 L526.7,146.4 L528.7,146.7 L530.7,147.1 L532.7,147.4 L534.7,147.7 L536.7,148.0 L538.7,148.3 L540.7,148.7 L542.7,149.0 L544.7,149.3 L546.7,149.7 L548.7,150.0 L550.7,150.4 L552.7,150.7 L554.7,151.1 L556.7,151.4 L558.7,151.8 L560.7,152.1 L562.7,152.5 L564.7,152.9 L566.7,153.3 L568.7,153.6 L570.7,154.0 L572.7,154.4 L574.7,154.8 L576.7,155.2 L578.7,155.6 L580.7,156.0 L582.7,156.4 L584.7,156.9 L586.7,157.3 L588.7,157.7 L590.7,158.1 L592.7,158.6 L594.7,159.0 L596.7,159.5 L598.7,159.9 L600.7,160.4 L602.7,160.9 L604.7,161.3 L606.7,161.8 L608.7,162.3 L610.7,162.8 L612.7,163.3 L614.7,163.8 L616.7,164.3 L618.7,164.8 L620.7,165.3 L622.7,165.9 L624.7,166.4 L626.7,167.0 L628.7,167.5 L630.7,168.1 L632.7,168.6 L634.7,169.2 L636.7,169.8 L638.7,170.4 L640.7,171.0 L642.7,171.6 L644.7,172.2 L646.7,172.8 L648.7,173.4 L650.7,174.1 L652.7,174.7 L654.7,175.4 L656.7,176.1 L658.7,176.8 L660.7,177.5 L662.7,178.2 L664.7,178.9 L666.7,179.7 L668.7,180.4 L670.7,181.2 L672.7,182.0 L674.7,182.8 L676.7,183.7 L678.7,184.5 L680.7,185.4 L682.7,186.3 L684.7,187.2 L686.7,188.1 L688.7,189.0 L690.7,190.0 L692.7,191.0 L694.7,192.0 L696.7,193.0 L698.7,194.1 L700.7,195.2 L702.7,196.3 L704.7,197.4 L706.7,198.6 L708.7,199.7 L710.7,200.9 L712.7,202.1 L714.7,203.4 L716.7,204.6 L718.7,205.9 L720.7,207.2 L722.7,208.6 L724.7,209.9 L726.7,211.3 L728.7,212.6 L730.7,214.0 L732.7,215.5 L734.7,216.9 L736.7,218.4 L738.7,219.9 L740.7,221.4 L742.7,222.9 L744.7,224.4 L746.7,226.0 L748.7,227.5 L750.7,229.1 L752.7,230.7 L754.7,232.4 L756.7,234.0 L758.7,235.7 L760.7,237.3 L762.7,239.0 L764.7,240.7 L766.7,242.3 L768.7,244.0 L770.7,245.7 L772.7,247.3 L774.7,248.9 L776.7,250.5 L778.7,252.1 L780.7,253.7 L782.7,255.2 L784.7,256.7 L786.7,258.2 L788.7,259.6 L790.7,261.0 L792.7,262.3 L794.7,263.6 L796.7,264.8 L798.7,266.0 L800.7,267.1 L802.7,268.1 L804.7,269.1 L805.9,269.6" fill="none" stroke="#0000ff" stroke-width="3.0" stroke-linejoin="round"/>
<path d="M154.7,117.4 L227.0,99.8 L269.3,98.2 L299.4,104.6 L322.7,109.6 L324.7,110.0 L326.7,110.4 L328.7,110.8 L330.7,111.2 L332.7,111.6 L334.7,112.0 L336.7,112.3 L338.7,112.7 L340.7,113.0 L342.7,113.3 L344.7,113.7 L346.7,114.0 L348.7,114.3 L350.7,114.6 L352.7,114.9 L354.7,115.2 L356.7,115.5 L358.7,115.8 L360.7,116.0 L362.7,116.3 L364.7,116.6 L366.7,116.8 L368.7,117.1 L370.7,117.3 L372.7,117.6 L374.7,117.8 L376.7,118.1 L378.7,118.3 L380.7,118.5 L382.7,118.8 L384.7,119.0 L386.7,119.2 L388.7,119.5 L390.7,119.7 L392.7,119.9 L394.7,120.2 L396.7,120.4 L398.7,120.6 L400.7,120.8 L402.7,121.1 L404.7,121.3 L406.7,121.5 L408.7,121.8 L410.7,122.0 L412.7,122.2 L414.7,122.5 L416.7,122.7 L418.7,122.9 L420.7,123.2 L422.7,123.4 L424.7,123.6 L426.7,123.9 L428.7,124.1 L430.7,124.4 L432.7,124.6 L434.7,124.9 L436.7,125.1 L438.7,125.4 L440.7,125.7 L442.7,125.9 L444.7,126.2 L446.7,126.4 L448.7,126.7 L450.7,127.0 L452.7,127.3 L454.7,127.5 L456.7,127.8 L458.7,128.1 L460.7,128.4 L462.7,128.7 L464.7,129.0 L466.7,129.3 L468.7,129.6 L470.7,129.9 L472.7,130.2 L474.7,130.5 L476.7,130.8 L478.7,131.1 L480.7,131.5 L482.7,131.8 L484.7,132.1 L486.7,132.5 L488.7,132.8 L490.7,133.2 L492.7,133.5 L494.7,133.9 L496.7,134.2 L498.7,134.6 L500.7,135.0 L502.7,135.4 L504.7,135.8 L506.7,136.1 L508.7,136.5 L510.7,136.9 L512.7,137.4 L514.7,137.8 L516.7,138.2 L518.7,138.6 L520.7,139.0 L522.7,139.5 L524.7,139.9 L526.7,140.4 L528.7,140.8 L530.7,141.3 L532.7,141.8 L534.7,142.2 L536.7,142.7 L538.7,143.2 L540.7,143.7 L542.7,144.2 L544.7,144.7 L546.7,145.2 L548.7,145.8 L550.7,146.3 L552.7,146.8 L554.7,147.4 L556.7,147.9 L558.7,148.5 L560.7,149.1 L562.7,149.7 L564.7,150.2 L566.7,150.8 L568.7,151.4 L570.7,152.1 L572.7,152.7 L574.7,153.3 L576.7,154.0 L578.7,154.6 L580.7,155.3 L582.7,155.9 L584.7,156.6 L586.7,157.3 L588.7,158.0 L590.7,158.7 L592.7,159.4 L594.7,160.2 L596.7,160.9 L598.7,161.7 L600.7,162.5 L602.7,163.3 L604.7,164.1 L606.7,165.0 L608.7,165.8 L610.7,166.7 L612.7,167.6 L614.7,168.5 L616.7,169.4 L618.7,170.3 L620.7,171.3 L622.7,172.3 L624.7,173.3 L626.7,174.3 L628.7,175.3 L630.7,176.3 L632.7,177.3 L634.7,178.4 L636.7,179.4 L638.7,180.5 L640.7,181.5 L642.7,182.6 L644.7,183.7 L646.7,184.8 L648.7,185.9 L650.7,187.1 L652.7,188.2 L654.7,189.4 L656.7,190.6 L658.7,191.8 L660.7,193.1 L662.7,194.4 L664.7,195.7 L666.7,197.0 L668.7,198.4 L670.7,199.8 L672.7,201.3 L674.7,202.7 L676.7,204.2 L678.7,205.8 L680.7,207.3 L682.7,208.9 L684.7,210.5 L686.7,212.1 L688.7,213.7 L690.7,215.3 L692.7,216.9 L694.7,218.5 L696.7,220.1 L698.7,221.7 L700.7,223.3 L702.7,224.8 L704.7,226.4 L706.7,227.9 L708.7,229.4 L710.7,230.9 L712.7,232.3 L714.7,233.7 L716.7,235.1 L718.7,236.4 L720.7,237.7 L722.7,238.9 L724.7,240.1 L726.7,241.2 L728.7,242.3 L730.7,243.3 L732.7,244.3 L733.5,244.6" fill="none" stroke="#0000ff" stroke-width="3.0" stroke-dasharray="4.4 2.0" stroke-linejoin="round"/>
<path d="M154.7,116.6 L227.0,98.4 L269.3,96.5 L299.4,102.9 L322.7,105.6 L324.7,105.8 L326.7,106.0 L328.7,106.2 L330.7,106.4 L332.7,106.6 L334.7,106.8 L336.7,107.0 L338.7,107.1 L340.7,107.3 L342.7,107.5 L344.7,107.7 L346.7,107.9 L348.7,108.1 L350.7,108.3 L352.7,108.5 L354.7,108.7 L356.7,108.9 L358.7,109.1 L360.7,109.3 L362.7,109.5 L364.7,109.7 L366.7,109.9 L368.7,110.1 L370.7,110.3 L372.7,110.5 L374.7,110.7 L376.7,110.9 L378.7,111.1 L380.7,111.3 L382.7,111.5 L384.7,111.8 L386.7,112.0 L388.7,112.2 L390.7,112.4 L392.7,112.7 L394.7,112.9 L396.7,113.1 L398.7,113.3 L400.7,113.6 L402.7,113.8 L404.7,114.1 L406.7,114.3 L408.7,114.6 L410.7,114.8 L412.7,115.1 L414.7,115.3 L416.7,115.6 L418.7,115.9 L420.7,116.1 L422.7,116.4 L424.7,116.7 L426.7,117.0 L428.7,117.3 L430.7,117.6 L432.7,117.9 L434.7,118.2 L436.7,118.5 L438.7,118.8 L440.7,119.1 L442.7,119.4 L444.7,119.7 L446.7,120.1 L448.7,120.4 L450.7,120.7 L452.7,121.1 L454.7,121.4 L456.7,121.8 L458.7,122.2 L460.7,122.5 L462.7,122.9 L464.7,123.3 L466.7,123.7 L468.7,124.1 L470.7,124.5 L472.7,124.9 L474.7,125.3 L476.7,125.7 L478.7,126.1 L480.7,126.6 L482.7,127.0 L484.7,127.5 L486.7,127.9 L488.7,128.4 L490.7,128.9 L492.7,129.3 L494.7,129.8 L496.7,130.3 L498.7,130.8 L500.7,131.3 L502.7,131.8 L504.7,132.3 L506.7,132.9 L508.7,133.4 L510.7,134.0 L512.7,134.5 L514.7,135.1 L516.7,135.7 L518.7,136.3 L520.7,136.9 L522.7,137.5 L524.7,138.2 L526.7,138.8 L528.7,139.5 L530.7,140.2 L532.7,140.9 L534.7,141.6 L536.7,142.4 L538.7,143.1 L540.7,143.9 L542.7,144.7 L544.7,145.5 L546.7,146.4 L548.7,147.2 L550.7,148.1 L552.7,149.0 L554.7,150.0 L556.7,150.9 L558.7,151.9 L560.7,152.9 L562.7,153.9 L564.7,155.0 L566.7,156.1 L568.7,157.2 L570.7,158.3 L572.7,159.5 L574.7,160.7 L576.7,161.9 L578.7,163.2 L580.7,164.5 L582.7,165.7 L584.7,167.1 L586.7,168.4 L588.7,169.7 L590.7,171.1 L592.7,172.4 L594.7,173.8 L596.7,175.2 L598.7,176.6 L600.7,178.0 L602.7,179.4 L604.7,180.7 L606.7,182.1 L608.7,183.5 L610.7,184.9 L612.7,186.3 L614.7,187.7 L616.7,189.1 L618.7,190.5 L620.7,191.9 L622.7,193.3 L624.7,194.7 L626.7,196.0 L628.7,197.4 L630.7,198.8 L632.7,200.1 L634.7,201.5 L636.7,202.8 L638.7,204.1 L640.7,205.4 L642.7,206.7 L644.7,208.0 L646.7,209.2 L648.7,210.5 L650.7,211.7 L652.7,212.9 L654.7,214.1 L656.7,215.3 L658.7,216.4 L660.7,217.5 L661.1,217.8" fill="none" stroke="#0000ff" stroke-width="3.0" stroke-dasharray="1.5 1.4" stroke-linejoin="round"/>
<rect x="154.65" y="65.10" width="651.20" height="520.80" fill="none" stroke="#000" stroke-width="2"/>
<g fill="#111" stroke="#fff" stroke-width="0.55">
<text transform="translate(125.40,76.80) scale(0.950,1)" text-anchor="end" font-size="38.5">10</text>
<text transform="translate(138.70,61.90) scale(1.000,1)" text-anchor="end" font-size="28.0">0</text>
<text transform="translate(104.50,134.67) scale(0.950,1)" text-anchor="end" font-size="38.5">10</text>
<path d="M107.1,113.5 h16.7" stroke="#1a1a1a" stroke-width="1.3"/>
<text transform="translate(138.40,119.77) scale(1.000,1)" text-anchor="end" font-size="28.0">1</text>
<text transform="translate(104.50,192.53) scale(0.950,1)" text-anchor="end" font-size="38.5">10</text>
<path d="M107.1,171.3 h16.7" stroke="#1a1a1a" stroke-width="1.3"/>
<text transform="translate(138.40,177.63) scale(1.000,1)" text-anchor="end" font-size="28.0">2</text>
<text transform="translate(104.50,250.40) scale(0.950,1)" text-anchor="end" font-size="38.5">10</text>
<path d="M107.1,229.2 h16.7" stroke="#1a1a1a" stroke-width="1.3"/>
<text transform="translate(138.40,235.50) scale(1.000,1)" text-anchor="end" font-size="28.0">3</text>
<text transform="translate(104.50,308.27) scale(0.950,1)" text-anchor="end" font-size="38.5">10</text>
<path d="M107.1,287.1 h16.7" stroke="#1a1a1a" stroke-width="1.3"/>
<text transform="translate(138.40,293.37) scale(1.000,1)" text-anchor="end" font-size="28.0">4</text>
<text transform="translate(104.50,366.13) scale(0.950,1)" text-anchor="end" font-size="38.5">10</text>
<path d="M107.1,344.9 h16.7" stroke="#1a1a1a" stroke-width="1.3"/>
<text transform="translate(138.40,351.23) scale(1.000,1)" text-anchor="end" font-size="28.0">5</text>
<text transform="translate(104.50,424.00) scale(0.950,1)" text-anchor="end" font-size="38.5">10</text>
<path d="M107.1,402.8 h16.7" stroke="#1a1a1a" stroke-width="1.3"/>
<text transform="translate(138.40,409.10) scale(1.000,1)" text-anchor="end" font-size="28.0">6</text>
<text transform="translate(104.50,481.87) scale(0.950,1)" text-anchor="end" font-size="38.5">10</text>
<path d="M107.1,460.7 h16.7" stroke="#1a1a1a" stroke-width="1.3"/>
<text transform="translate(138.40,466.97) scale(1.000,1)" text-anchor="end" font-size="28.0">7</text>
<text transform="translate(104.50,539.73) scale(0.950,1)" text-anchor="end" font-size="38.5">10</text>
<path d="M107.1,518.5 h16.7" stroke="#1a1a1a" stroke-width="1.3"/>
<text transform="translate(138.40,524.83) scale(1.000,1)" text-anchor="end" font-size="28.0">8</text>
<text transform="translate(104.50,597.60) scale(0.950,1)" text-anchor="end" font-size="38.5">10</text>
<path d="M107.1,576.4 h16.7" stroke="#1a1a1a" stroke-width="1.3"/>
<text transform="translate(138.40,582.70) scale(1.000,1)" text-anchor="end" font-size="28.0">9</text>
</g>
<g fill="#111" stroke="#fff" stroke-width="0.55">
<text transform="translate(154.90,618.80) scale(0.950,1)" text-anchor="middle" font-size="38.5">1</text>
<text transform="translate(394.40,618.80) scale(0.950,1)" text-anchor="middle" font-size="38.5">10</text>
<text transform="translate(636.00,618.80) scale(0.950,1)" text-anchor="middle" font-size="38.5">100</text>
</g>
<g fill="#111" stroke="#fff" stroke-width="0.55">
<text transform="translate(432.63,621.40) scale(1.011,0.985)" font-size="38.5" font-style="italic">k</text>
<text transform="translate(454.80,624.46) scale(0.744,1.216)" font-size="38.5">[</text>
<text transform="translate(462.60,621.10) scale(0.961,0.975)" font-size="38.5">2</text>
<text transform="translate(480.56,621.15) scale(0.925,0.917)" font-size="38.5" font-style="italic">π</text>
<path d="M520.7,592.2 L506.3,630.6" stroke="#1a1a1a" stroke-width="1.4" fill="none"/>
<text transform="translate(525.43,621.30) scale(1.111,0.961)" font-size="38.5" font-style="italic">L</text>
<text transform="translate(547.95,624.46) scale(0.744,1.216)" font-size="38.5">]</text>
</g>
<g fill="#111" stroke="#fff" stroke-width="0.55" transform="translate(55.3,340) rotate(-90)">
<text transform="translate(1.10,-0.14) scale(1.051,1.070)" font-size="38.5" font-style="italic">D</text>
<text transform="translate(33.22,0.34) scale(0.769,1.133)" font-size="38.5">(</text>
<text transform="translate(44.33,0.50) scale(1.096,1.038)" font-size="38.5" font-style="italic">k</text>
<text transform="translate(66.62,0.34) scale(0.840,1.133)" font-size="38.5">)</text>
</g>
<g transform="translate(260,265.05) scale(0.12285)"><path d="M196,76 L213,66 L259,250 L418,70 L428,72 C414,150 408,225 412,262 C413,276 418,282 426,278 L428,284 C412,296 386,300 378,282 C375,240 385,170 400,106 L250,280 L236,276 L194,112 C178,168 156,226 134,265 C124,298 100,312 84,298 C72,284 84,262 104,266 C114,268 120,266 126,257 C155,196 180,128 196,76 Z" fill="#1a1a1a"/></g>
<g fill="#111" stroke="#fff" stroke-width="0.55"><text transform="translate(351.00,300.65) scale(0.950,1)" text-anchor="end" font-size="38.5">01</text></g>
<path d="M365.8,292.3 H433.1" stroke="#00ffff" stroke-width="3"/>
<g transform="translate(260,302.35) scale(0.12285)"><path d="M196,76 L213,66 L259,250 L418,70 L428,72 C414,150 408,225 412,262 C413,276 418,282 426,278 L428,284 C412,296 386,300 378,282 C375,240 385,170 400,106 L250,280 L236,276 L194,112 C178,168 156,226 134,265 C124,298 100,312 84,298 C72,284 84,262 104,266 C114,268 120,266 126,257 C155,196 180,128 196,76 Z" fill="#1a1a1a"/></g>
<g fill="#111" stroke="#fff" stroke-width="0.55"><text transform="translate(351.00,337.95) scale(0.950,1)" text-anchor="end" font-size="38.5">05</text></g>
<path d="M365.8,329.6 H433.1" stroke="#00ff00" stroke-width="3"/>
<g transform="translate(260,339.45) scale(0.12285)"><path d="M196,76 L213,66 L259,250 L418,70 L428,72 C414,150 408,225 412,262 C413,276 418,282 426,278 L428,284 C412,296 386,300 378,282 C375,240 385,170 400,106 L250,280 L236,276 L194,112 C178,168 156,226 134,265 C124,298 100,312 84,298 C72,284 84,262 104,266 C114,268 120,266 126,257 C155,196 180,128 196,76 Z" fill="#1a1a1a"/></g>
<g fill="#111" stroke="#fff" stroke-width="0.55"><text transform="translate(351.00,375.05) scale(0.950,1)" text-anchor="end" font-size="38.5">10</text></g>
<path d="M365.8,366.7 H433.1" stroke="#006400" stroke-width="3"/>
<g transform="translate(260,376.85) scale(0.12285)"><path d="M196,76 L213,66 L259,250 L418,70 L428,72 C414,150 408,225 412,262 C413,276 418,282 426,278 L428,284 C412,296 386,300 378,282 C375,240 385,170 400,106 L250,280 L236,276 L194,112 C178,168 156,226 134,265 C124,298 100,312 84,298 C72,284 84,262 104,266 C114,268 120,266 126,257 C155,196 180,128 196,76 Z" fill="#1a1a1a"/></g>
<g fill="#111" stroke="#fff" stroke-width="0.55"><text transform="translate(351.00,412.45) scale(0.950,1)" text-anchor="end" font-size="38.5">16</text></g>
<path d="M365.8,404.1 H433.1" stroke="#0000ff" stroke-width="3"/>
<g fill="#111" stroke="#fff" stroke-width="0.55"><text transform="translate(337.00,459.50) scale(0.950,1)" text-anchor="end" font-size="38.5">1024</text><text transform="translate(350.00,446.10) scale(1.000,1)" text-anchor="end" font-size="28.0">3</text></g>
<path d="M365.8,448.4 H433.1" stroke="#000" stroke-width="2.9"/>
<g fill="#111" stroke="#fff" stroke-width="0.55"><text transform="translate(337.00,496.50) scale(0.950,1)" text-anchor="end" font-size="38.5">512</text><text transform="translate(350.00,483.10) scale(1.000,1)" text-anchor="end" font-size="28.0">3</text></g>
<path d="M365.8,485.4 H433.1" stroke="#000" stroke-width="2.9" stroke-dasharray="2.2 3.5"/>
<g fill="#111" stroke="#fff" stroke-width="0.55"><text transform="translate(337.00,534.00) scale(0.950,1)" text-anchor="end" font-size="38.5">256</text><text transform="translate(350.00,520.60) scale(1.000,1)" text-anchor="end" font-size="28.0">3</text></g>
<path d="M365.8,522.9 H433.1" stroke="#000" stroke-width="2.9" stroke-dasharray="1 1.83"/>
</svg></body></html>
